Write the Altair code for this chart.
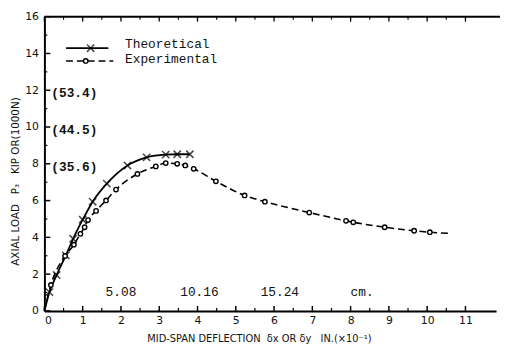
import altair as alt
import pandas as pd

# ---- data ----
theo_x = [0, 0.13, 0.32, 0.56, 0.75, 1.0, 1.26, 1.63, 2.17, 2.67, 3.17, 3.47, 3.8]
theo_y = [0, 1.02, 1.95, 3.02, 3.92, 4.96, 5.94, 6.92, 7.91, 8.35, 8.5, 8.52, 8.52]
theo_mark = [False] + [True] * 12

exp_x = [0, 0.17, 0.54, 0.77, 0.94, 1.05, 1.14, 1.35, 1.61, 1.87, 2.43, 2.91, 3.17,
         3.47, 3.68, 3.9, 4.48, 5.23, 5.76, 6.92, 7.88, 8.07, 8.89, 9.66, 10.07, 10.55]
exp_y = [0, 1.41, 2.99, 3.6, 4.19, 4.55, 4.94, 5.44, 6.01, 6.6, 7.45, 7.86, 8.04,
         8.0, 7.91, 7.73, 7.05, 6.28, 5.94, 5.35, 4.9, 4.82, 4.55, 4.36, 4.28, 4.22]
exp_mark = [False] + [True] * 24 + [False]

kn_labels = ["(53.4)", "(44.5)", "(35.6)"]
kn_y = [12, 10, 8]
kn_x = [0.18, 0.18, 0.18]

cm_labels = ["5.08", "10.16", "15.24", "cm."]
cm_x = [2.0, 4.05, 6.15, 8.3]
cm_y = [1.0, 1.0, 1.0, 1.0]

legend_labels = ["Theoretical", "Experimental"]

x_major = list(range(0, 12))
x_minor = [i + 0.5 for i in range(0, 11)]
y_major = list(range(0, 17, 2))
y_minor = list(range(1, 16, 2))

W, H = 459, 299
XMAX = 11.8
NB = "\u00a0"
TC = "black"

theo = pd.DataFrame({"x": theo_x, "y": theo_y, "m": theo_mark})
exp = pd.DataFrame({"x": exp_x, "y": exp_y, "m": exp_mark})
kn = pd.DataFrame({"x": kn_x, "y": kn_y, "t": kn_labels})
cm = pd.DataFrame({"x": cm_x, "y": cm_y, "t": cm_labels})
xmaj = pd.DataFrame({"xt": x_major})
xmin = pd.DataFrame({"xm": x_minor})
ymaj = pd.DataFrame({"yt": y_major})
ymin = pd.DataFrame({"ym": y_minor})

xs = alt.Scale(domain=[0, XMAX], nice=False, zero=False)
ys = alt.Scale(domain=[0, 16], nice=False)

AX = dict(labelFont="DejaVu Sans", labelFontSize=11, labelColor="#111",
          titleFont="DejaVu Sans", titleColor="#111",
          titleFontWeight="normal", domainColor="#000", grid=False,
          labelOverlap=False)

xtitle = ("MID-SPAN DEFLECTION" + NB * 2 + "δx" + NB + "OR" + NB + "δy" + NB * 3
          + "IN.(×10⁻¹)")
ytitle = "AXIAL LOAD" + NB * 3 + "P₃" + NB * 3 + "KIP OR(1000N)"

xmain = alt.Axis(values=x_major, format="d", ticks=False, domainWidth=2,
                 labelPadding=4, title=xtitle, titlePadding=8, titleX=218,
                 titleFontSize=10, **AX)
ymain = alt.Axis(values=y_major, format="d", ticks=False, domainWidth=2,
                 labelPadding=6, title=ytitle, titlePadding=4, titleY=167,
                 titleFontSize=10.5, **AX)


def X(f):
    return alt.X(f, scale=xs, axis=None)


def Y(f):
    return alt.Y(f, scale=ys, axis=None)


theo_line = alt.Chart(theo).mark_line(color="black", strokeWidth=1.8,
                                      interpolate="monotone").encode(
    x=alt.X("x:Q", scale=xs, axis=xmain),
    y=alt.Y("y:Q", scale=ys, axis=ymain))

exp_line = alt.Chart(exp).mark_line(color="black", strokeWidth=1.6,
                                    strokeDash=[7, 4], interpolate="monotone").encode(
    x=X("x:Q"), y=Y("y:Q"))

XPATH = "M-1,-1L1,1M-1,1L1,-1"
VPATH = "M0,-1L0,1"

theo_pts = alt.Chart(theo).transform_filter("datum.m").mark_point(
    shape=XPATH, size=55, color="black", strokeWidth=1.6, filled=False).encode(
    x=X("x:Q"), y=Y("y:Q"))

exp_pts = alt.Chart(exp).transform_filter("datum.m").mark_point(
    shape="circle", size=20, color="black", fill="white", filled=True,
    stroke="black", strokeWidth=1.4, opacity=1).encode(
    x=X("x:Q"), y=Y("y:Q"))

# inward tick marks along the axes (vertical ones as short line symbols)
xt_major = alt.Chart(xmaj).mark_point(shape=VPATH, size=25, color=TC,
                                      strokeWidth=1.5, filled=False, opacity=1).encode(
    x=X("xt:Q"), y=alt.value(H - 2.5))
xt_minor = alt.Chart(xmin).mark_point(shape=VPATH, size=9, color=TC,
                                      strokeWidth=1.2, filled=False, opacity=1).encode(
    x=X("xm:Q"), y=alt.value(H - 1.5))
xt_top = alt.Chart(xmaj).mark_point(shape=VPATH, size=25, color=TC,
                                    strokeWidth=1.3, filled=False, opacity=1).encode(
    x=X("xt:Q"), y=alt.value(2.5))
xt_top_minor = alt.Chart(xmin).mark_point(shape=VPATH, size=9, color=TC,
                                          strokeWidth=1.1, filled=False, opacity=1).encode(
    x=X("xm:Q"), y=alt.value(1.5))
yt_major = alt.Chart(ymaj).mark_rule(color=TC, strokeWidth=1.5).encode(
    y=Y("yt:Q"), x=alt.value(0), x2=alt.value(6))
yt_minor = alt.Chart(ymin).mark_rule(color=TC, strokeWidth=1.2).encode(
    y=Y("ym:Q"), x=alt.value(0), x2=alt.value(3))
top_border = alt.Chart(pd.DataFrame({"v": [16]})).mark_rule(
    color="black", strokeWidth=2).encode(
    y=Y("v:Q"), x=alt.value(0), x2=alt.value(W + 4))

kn_text = alt.Chart(kn).mark_text(font="Liberation Mono", fontSize=13,
                                  fontWeight="bold", align="left", baseline="middle",
                                  dy=3, color="#111").encode(
    x=X("x:Q"), y=Y("y:Q"), text="t:N")

cm_text = alt.Chart(cm).mark_text(font="Liberation Mono", fontSize=13,
                                  align="center", baseline="middle",
                                  color="#111").encode(
    x=X("x:Q"), y=Y("y:Q"), text="t:N")

# ---- hand-drawn style legend ----
one = pd.DataFrame({"t": [legend_labels[0]]})
two = pd.DataFrame({"t": [legend_labels[1]]})

leg_l1 = alt.Chart(one).mark_rule(color="black", strokeWidth=1.8).encode(
    x=alt.value(22), x2=alt.value(65), y=alt.value(32))
leg_p1 = alt.Chart(one).mark_point(shape=XPATH, size=55, color="black",
                                   strokeWidth=1.6).encode(
    x=alt.value(47), y=alt.value(32))
leg_l2 = alt.Chart(two).mark_rule(color="black", strokeWidth=1.6,
                                  strokeDash=[7, 4]).encode(
    x=alt.value(22), x2=alt.value(70), y=alt.value(45))
leg_p2 = alt.Chart(two).mark_point(shape="circle", size=20, color="black",
                                   fill="white", filled=True, stroke="black",
                                   strokeWidth=1.4, opacity=1).encode(
    x=alt.value(42), y=alt.value(45))
leg_t1 = alt.Chart(one).mark_text(font="Liberation Mono", fontSize=13, align="left",
                                  baseline="middle", color="#111").encode(
    x=alt.value(82), y=alt.value(28), text="t:N")
leg_t2 = alt.Chart(two).mark_text(font="Liberation Mono", fontSize=13, align="left",
                                  baseline="middle", color="#111").encode(
    x=alt.value(82), y=alt.value(43), text="t:N")

chart = alt.layer(
    theo_line, exp_line, theo_pts, exp_pts,
    xt_major, xt_minor, xt_top, xt_top_minor, yt_major, yt_minor, top_border,
    kn_text, cm_text,
    leg_l1, leg_p1, leg_l2, leg_p2, leg_t1, leg_t2
).resolve_axis(x="independent", y="independent").properties(
    width=W, height=H,
    autosize=alt.AutoSizeParams(type="none"),
    padding={"left": 37, "top": 6, "right": 4, "bottom": 44},
    background="white"
).configure_view(stroke=None)

chart.save("out.html", embed_options={"renderer": "svg", "actions": False})
